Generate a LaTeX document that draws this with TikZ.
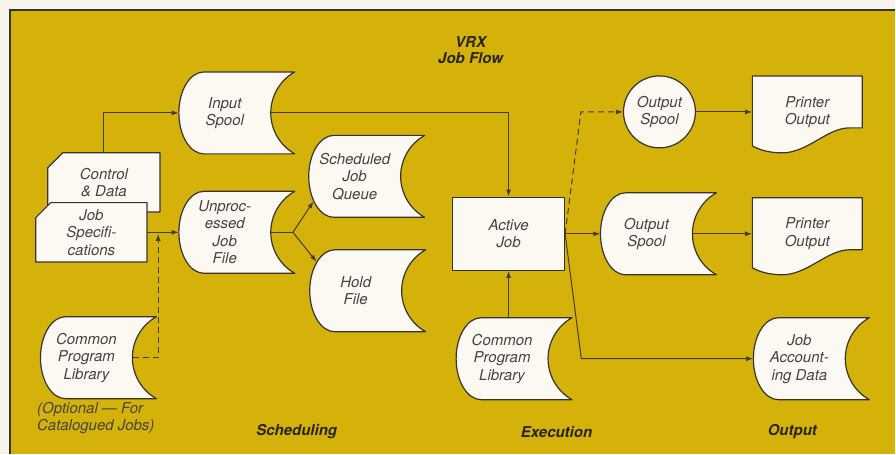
\documentclass[tikz,border=0pt]{standalone}
\usepackage{fontspec}
\setmainfont{TeX Gyre Heros}
\usetikzlibrary{calc,arrows.meta,backgrounds}
\definecolor{gold}{RGB}{212,178,10}
\definecolor{paper}{RGB}{246,243,234}
\definecolor{boxfill}{RGB}{251,249,242}
\definecolor{edge}{RGB}{55,52,45}
\definecolor{wirecol}{RGB}{70,62,35}
\definecolor{txt}{RGB}{70,68,62}
\definecolor{ttl}{RGB}{40,38,30}
\newcommand\StorShape[1]{\path[shapebox,shift={(#1.center)}] (-21,-41) -- (70,-41) .. controls (55.2,-32.7) and (46,-17) .. (46,0) .. controls (46,17) and (55.2,32.7) .. (70,41) -- (-21,41) .. controls (-34.8,41) and (-46,22.6) .. (-46,0) .. controls (-46,-22.6) and (-34.8,-41) .. (-21,-41) -- cycle;}
\newcommand\CardShape[1]{\path[shapebox] ($(#1.north west)+(15,0)$) -- (#1.north east) -- (#1.south east) -- (#1.south west) -- ($(#1.north west)+(0,15)$) -- cycle;}
\newcommand\DocShape[1]{\path[shapebox,shift={(#1.center)}] (-55,-36) -- (55,-36) -- (55,16) -- (42,16) .. controls (20,16) and (0,41) .. (-25,41) .. controls (-38,41) and (-48,38) .. (-55,34) -- cycle;}
\begin{document}
\begin{tikzpicture}[x=1pt,y=-1pt,
 lbl/.style={font=\itshape\fontsize{15}{17.5}\selectfont,text=txt,align=center,inner sep=0pt},
 stornode/.style={lbl,minimum width=92pt,minimum height=82pt},
 cardnode/.style={lbl,minimum height=59pt},
 docnode/.style={lbl,minimum width=110pt,minimum height=72pt},
 shapebox/.style={fill=boxfill,draw=edge,line width=1.2pt,line join=round},
 ttlstyle/.style={font=\bfseries\itshape\fontsize{15}{16}\selectfont,text=ttl,align=center,inner sep=0pt},
 wire/.style={draw=wirecol,line width=1pt},
 arr/.style={wire,-{Latex[length=7pt,width=5pt]}},
 dasharr/.style={arr,dash pattern=on 6pt off 4pt},
]
\begin{scope}[on background layer]
 \fill[paper] (0,0) rectangle (896,454);
 \fill[gold] (10,10) rectangle (896,454);
 \draw[edge,line width=1.5pt] (10,454) -- (10,10) -- (896,10);
\end{scope}
\useasboundingbox (0,0) rectangle (896,454);

\node[ttlstyle] (title) at (471,50) {VRX\\Job Flow};
\node[stornode] (inspool) at (225,113) {Input\\Spool};
\node[stornode] (sjq) at (355,176.5) {Scheduled\\Job\\Queue};
\node[stornode] (hold) at (356,291) {Hold\\File};
\node[stornode] (ujf) at (225,232.5) {Unproc-\\essed\\Job\\File};
\node[cardnode,minimum width=112pt] (cd) at (104,182.5) {Control\\\& Data};
\node[cardnode,minimum width=111pt] (js) at (91.5,232.5) {Job\\Specifi-\\cations};
\node[stornode] (cpl1) at (86.5,358) {Common\\Program\\Library};
\node[lbl,anchor=north west,align=left] (opt) at (37,402) {(Optional — For\\Catalogued Jobs)};
\node[ttlstyle] (sched) at (297,432) {Scheduling};
\node[lbl,draw=edge,fill=boxfill,line width=1.2pt,minimum width=112pt,minimum height=73pt] (aj) at (509,234) {Active\\Job};
\node[stornode] (cpl2) at (502.5,359) {Common\\Program\\Library};
\node[ttlstyle] (exec) at (557,432) {Execution};
\node[lbl,circle,draw=edge,fill=boxfill,line width=1.2pt,minimum size=72pt] (os1) at (660,112) {Output\\Spool};
\node[stornode] (os2) at (647,234) {Output\\Spool};
\node[docnode] (po1) at (808,112) {Printer\\Output};
\node[docnode] (po2) at (808,234) {Printer\\Output};
\node[stornode] (jad) at (800,359) {Job\\Account-\\ing Data};
\node[ttlstyle] (outp) at (793,432) {Output};

\begin{scope}[on background layer]
 \foreach \n in {inspool,sjq,hold,ujf,cpl1,cpl2,os2,jad} {\StorShape{\n}}
 \CardShape{cd}
 \CardShape{js}
 \DocShape{po1}
 \DocShape{po2}
\end{scope}

\draw[arr] (cd.north) |- (inspool.west);
\draw[arr] (inspool.east) -| (aj.north);
\draw[arr] (js.east) -- (ujf.west);
\coordinate (jn) at ($(js.east)!0.35!(ujf.west)$);
\draw[dasharr,shorten >=1.5pt] (cpl1.east) -| (jn);
\coordinate (fork) at ($(ujf.east)+(22,0)$);
\draw[wire] (ujf.east) -- (fork);
\draw[arr] (fork) -- ($(sjq.west)+(5,25)$);
\draw[arr] (fork) -- ($(hold.west)+(7,-29)$);
\draw[arr] (aj.east) -- (os2.west);
\draw[dasharr] (aj.east) -- ($(os1.west)+(-42,0)$) -- (os1.west);
\draw[arr] (aj.east) -- ($(jad.west)+(-172,0)$) -- (jad.west);
\draw[arr] (os1.east) -- (po1.west);
\draw[arr] (os2.east) -- (po2.west);
\draw[arr] (cpl2.north -| aj.south) -- (aj.south);
\end{tikzpicture}
\end{document}
